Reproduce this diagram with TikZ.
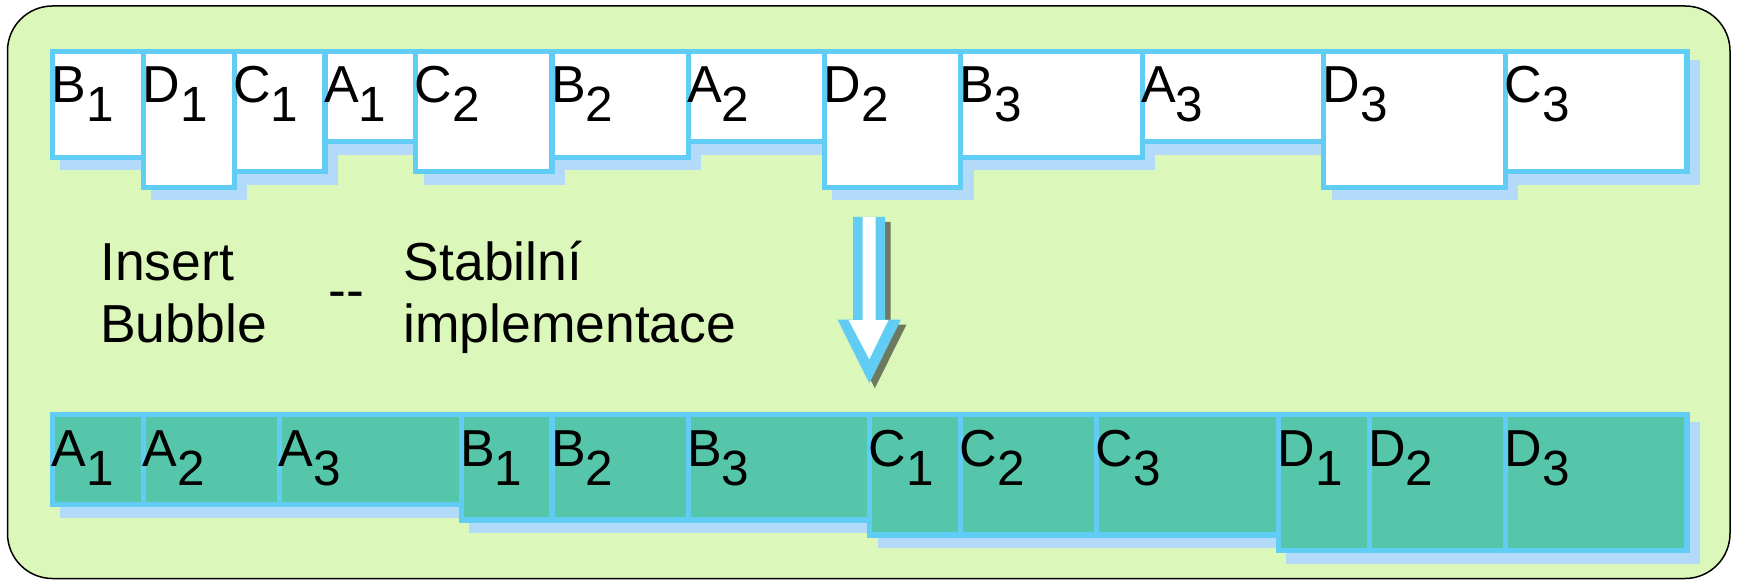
\documentclass[tikz,border=0pt]{standalone}
\usepackage{fontspec}
\setmainfont{Liberation Sans}
\definecolor{paper}{RGB}{219,247,185}
\definecolor{rim}{RGB}{97,205,245}
\definecolor{haze}{RGB}{179,219,249}
\definecolor{sorted}{RGB}{85,198,170}
\definecolor{drop}{RGB}{110,122,95}
\tikzset{
  frame/.style={draw=black, line width=1.5pt, fill=paper, rounded corners=45pt},
  cell/.style={draw=rim, line width=5.2pt, fill=white},
  done/.style={cell, fill=sorted},
  ghost/.style={draw=haze, line width=5.2pt, fill=haze},
  key/.style={font=\fontsize{52}{52}\selectfont, inner sep=0pt, anchor=base west},
  note/.style={font=\fontsize{53.5}{53.5}\selectfont, inner sep=0pt, anchor=base west},
}
\newcommand\ix[1]{\raisebox{-19pt}{\fontsize{49.5}{49.5}\selectfont #1}}

\begin{document}
\begin{tikzpicture}[x=1pt,y=-1pt]
\useasboundingbox (0,0) rectangle (1737,580);
\def\T{51.7}
\def\U{414.5}
\def\dx{10.5}
\def\dy{10.5}
% frame
\draw[frame] (7.5,6) rectangle (1730,578.5);
% shadows
\begin{scope}[shift={(\dx,\dy)}]
\path[ghost] (52.5,\T) rectangle (143.3,157.3) (143.3,\T) rectangle (234.1,187.3)
  (234.1,\T) rectangle (324.9,171.7) (324.9,\T) rectangle (415.7,141.7)
  (415.7,\T) rectangle (551.9,171.7) (551.9,\T) rectangle (688.1,157.3)
  (688.1,\T) rectangle (824.3,141.7) (824.3,\T) rectangle (960.5,187.3)
  (960.5,\T) rectangle (1142.1,157.3) (1142.1,\T) rectangle (1323.7,141.7)
  (1323.7,\T) rectangle (1505.3,187.3) (1505.3,\T) rectangle (1686.9,171.7);
\path[ghost] (52.5,\U) rectangle (461.1,504.5) (461.1,\U) rectangle (869.7,520)
  (869.7,\U) rectangle (1278.3,535) (1278.3,\U) rectangle (1686.9,550.5);
\end{scope}
% input order
\draw[cell] (52.5,\T) rectangle (143.3,157.3);     \node[key] (tb1) at (51.5,103) {B\ix{1}};
\draw[cell] (143.3,\T) rectangle (234.1,187.3);    \node[key] (td1) at (142.3,103) {D\ix{1}};
\draw[cell] (234.1,\T) rectangle (324.9,171.7);    \node[key] (tc1) at (233.1,103) {C\ix{1}};
\draw[cell] (324.9,\T) rectangle (415.7,141.7);    \node[key] (ta1) at (323.9,103) {A\ix{1}};
\draw[cell] (415.7,\T) rectangle (551.9,171.7);    \node[key] (tc2) at (414.7,103) {C\ix{2}};
\draw[cell] (551.9,\T) rectangle (688.1,157.3);    \node[key] (tb2) at (550.9,103) {B\ix{2}};
\draw[cell] (688.1,\T) rectangle (824.3,141.7);    \node[key] (ta2) at (687.1,103) {A\ix{2}};
\draw[cell] (824.3,\T) rectangle (960.5,187.3);    \node[key] (td2) at (823.3,103) {D\ix{2}};
\draw[cell] (960.5,\T) rectangle (1142.1,157.3);   \node[key] (tb3) at (959.5,103) {B\ix{3}};
\draw[cell] (1142.1,\T) rectangle (1323.7,141.7);  \node[key] (ta3) at (1141.1,103) {A\ix{3}};
\draw[cell] (1323.7,\T) rectangle (1505.3,187.3);  \node[key] (td3) at (1322.7,103) {D\ix{3}};
\draw[cell] (1505.3,\T) rectangle (1686.9,171.7);  \node[key] (tc3) at (1504.3,103) {C\ix{3}};
% caption
\node[note] (insert) at (100,280.7) {Insert};
\node[note] (bubble) at (100,342.7) {Bubble};
\node[note] (dashes) at (328.5,308.5) {-{}-};
\node[note] (stab) at (403.5,280.7) {Stabilní};
\node[note] (impl) at (403,342.7) {implementace};
% block arrow
\fill[drop, shift={(5.5,5)}] (853,217) -- (885,217) -- (885,319.5) -- (901,319.5)
  -- (869.3,383.3) -- (837.5,319.5) -- (853,319.5) -- cycle;
\fill[rim] (853,217) -- (885,217) -- (885,319.5) -- (901,319.5)
  -- (869.3,383.3) -- (837.5,319.5) -- (853,319.5) -- cycle;
\fill[white] (862.7,217) -- (875.7,217) -- (875.7,320) -- (888.5,320)
  -- (869.3,359.3) -- (848.5,320) -- (862.7,320) -- cycle;
% sorted order
\draw[done] (52.5,\U) rectangle (143.3,504.5);     \node[key] (ba1) at (51.5,466) {A\ix{1}};
\draw[done] (143.3,\U) rectangle (279.5,504.5);    \node[key] (ba2) at (142.3,466) {A\ix{2}};
\draw[done] (279.5,\U) rectangle (461.1,504.5);    \node[key] (ba3) at (278.5,466) {A\ix{3}};
\draw[done] (461.1,\U) rectangle (551.9,520);      \node[key] (bb1) at (460.1,466) {B\ix{1}};
\draw[done] (551.9,\U) rectangle (688.1,520);      \node[key] (bb2) at (550.9,466) {B\ix{2}};
\draw[done] (688.1,\U) rectangle (869.7,520);      \node[key] (bb3) at (687.1,466) {B\ix{3}};
\draw[done] (869.7,\U) rectangle (960.5,535);      \node[key] (bc1) at (868.7,466) {C\ix{1}};
\draw[done] (960.5,\U) rectangle (1096.7,535);     \node[key] (bc2) at (959.5,466) {C\ix{2}};
\draw[done] (1096.7,\U) rectangle (1278.3,535);    \node[key] (bc3) at (1095.7,466) {C\ix{3}};
\draw[done] (1278.3,\U) rectangle (1369.1,550.5);  \node[key] (bd1) at (1277.3,466) {D\ix{1}};
\draw[done] (1369.1,\U) rectangle (1505.3,550.5);  \node[key] (bd2) at (1368.1,466) {D\ix{2}};
\draw[done] (1505.3,\U) rectangle (1686.9,550.5);  \node[key] (bd3) at (1504.3,466) {D\ix{3}};
\end{tikzpicture}
\end{document}
